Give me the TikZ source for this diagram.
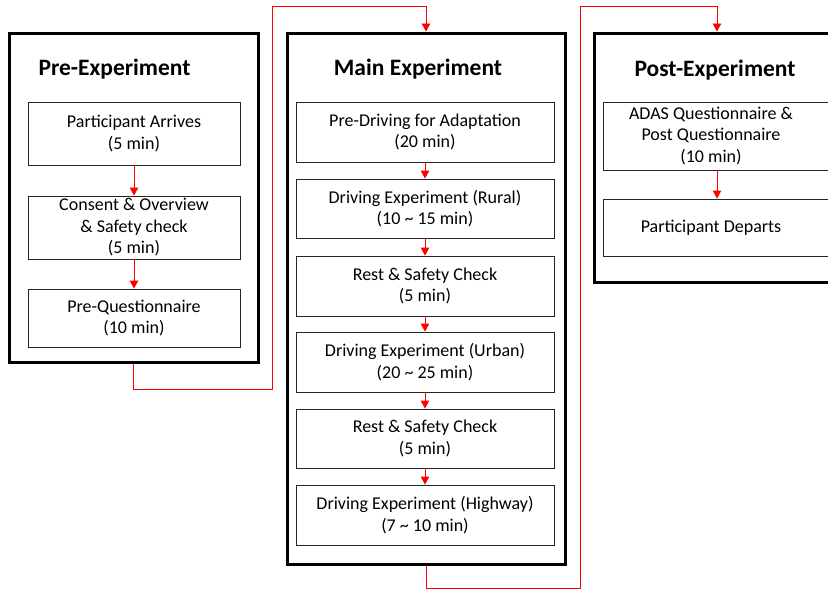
\documentclass[tikz,border=0pt]{standalone}
\usepackage{fontspec}
\setmainfont{Carlito}
\usetikzlibrary{arrows.meta,calc}
\begin{document}
\begin{tikzpicture}[x=1pt,y=-1pt,
  outerbox/.style={draw=black,line width=3pt,inner sep=0pt,fill=white},
  stepbox/.style={draw=black!85,line width=0.9pt,inner sep=0pt,align=center,
    font=\fontsize{18}{21.5}\selectfont,fill=white},
  txt/.style={inner sep=0pt,align=center,font=\fontsize{18}{21.5}\selectfont},
  ttl/.style={inner sep=0pt,font=\fontsize{23.5}{27}\selectfont\bfseries},
  flow/.style={draw=red,line width=0.9pt,-{Triangle[length=8pt,width=8.5pt]}},
  link/.style={draw=red,line width=0.9pt}]
\useasboundingbox (0,0) rectangle (828,589);
% outer boxes
\node[outerbox,minimum width=248.5pt,minimum height=329pt] (pre) at (133.75,197.5) {};
\node[outerbox,minimum width=278pt,minimum height=531pt] (main) at (426,298.5) {};
\node[outerbox,minimum width=246pt,minimum height=249pt] (post) at (717,157.5) {};
% titles
\node[ttl] (t1) at (114.5,69) {Pre-Experiment};
\node[ttl] (t2) at (418,69) {Main Experiment};
\node[ttl] (t3) at (715,70) {Post-Experiment};
% pre boxes
\node[stepbox,minimum width=212pt,minimum height=63pt] (a1) at (134,133.5) {Participant Arrives\\(5 min)};
\node[stepbox,minimum width=212pt,minimum height=63pt] (a2) at (134,227.5) {Consent \& Overview\\\& Safety check\\(5 min)};
\node[stepbox,minimum width=212pt,minimum height=58pt] (a3) at (134,318) {Pre-Questionnaire\\(10 min)};
% main boxes
\node[stepbox,minimum width=258pt,minimum height=60pt] (b1) at (425,132) {Pre-Driving for Adaptation\\(20 min)};
\node[stepbox,minimum width=258pt,minimum height=59pt] (b2) at (425,208.5) {Driving Experiment (Rural)\\(10 \textasciitilde\ 15 min)};
\node[stepbox,minimum width=258pt,minimum height=60pt] (b3) at (425,286) {Rest \& Safety Check\\(5 min)};
\node[stepbox,minimum width=258pt,minimum height=60pt] (b4) at (425,362) {Driving Experiment (Urban)\\(20 \textasciitilde\ 25 min)};
\node[stepbox,minimum width=258pt,minimum height=59pt] (b5) at (425,438.5) {Rest \& Safety Check\\(5 min)};
\node[stepbox,minimum width=258pt,minimum height=60pt] (b6) at (425,515) {Driving Experiment (Highway)\\(7 \textasciitilde\ 10 min)};
% post boxes
\node[stepbox,minimum width=228pt,minimum height=68pt] (c1) at (717,136) {};
\node[txt] (c1t) at (711,136) {ADAS Questionnaire \&\\Post Questionnaire\\(10 min)};
\node[stepbox,minimum width=228pt,minimum height=57pt] (c2) at (717,227.5) {};
\node[txt] (c2t) at (711,228) {Participant Departs};
% inner arrows
\draw[flow] (a1) -- (a2);
\draw[flow] (a2) -- (a3);
\draw[flow] (b1) -- (b2);
\draw[flow] (b2) -- (b3);
\draw[flow] (b3) -- (b4);
\draw[flow] (b4) -- (b5);
\draw[flow] (b5) -- (b6);
\draw[flow] (c1) -- (c2);
% phase connectors
\coordinate (j1) at (272,389);
\coordinate (j2) at (272,6);
\coordinate (j3) at (580,588);
\coordinate (j4) at (580,6);
\draw[flow] (pre.south) |- (j1) -- (j2) -| (main.north);
\draw[flow] (main.south) |- (j3) -- (j4) -| (post.north);
\end{tikzpicture}
\end{document}
